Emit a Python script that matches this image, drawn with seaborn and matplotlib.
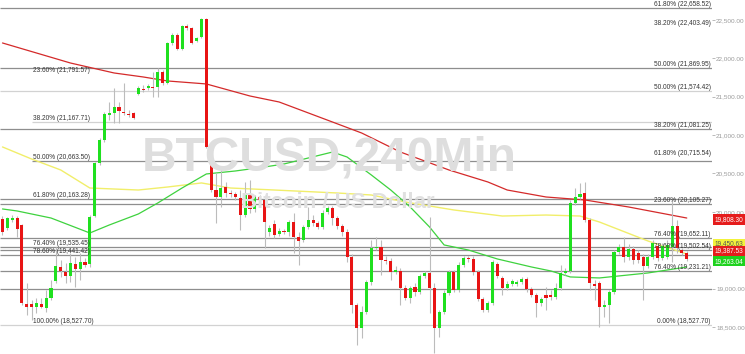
import numpy as np
import pandas as pd
import matplotlib
matplotlib.use("Agg")
import matplotlib.pyplot as plt
import matplotlib.transforms as mtransforms
import seaborn as sns

# ---------------- data ----------------
opens = [19906, 19789, 19893, 19919, 19828, 18799, 18799, 18760, 18799, 18747,
         18877, 19099, 19281, 19216, 19164, 19320, 19255, 19346, 19320, 19945,
         20636, 20936, 21261, 21288, 21366, 21301, 21275, 21288, 21535, 21600,
         21613, 21626, 21626, 21822, 21679, 22200, 22304, 22122, 22421, 22395,
         22226, 22278, 22512, 20832, 20284, 20193, 20323, 20245, 20232, 20180,
         19958, 20232, 20037, 20193, 20154, 19737, 19841, 19711, 19750, 19737,
         19867, 19672, 19633, 19802, 19893, 19854, 19802, 19998, 20050, 19919,
         19815, 19737, 19411, 18786, 18486, 18695, 19085, 19529, 19542, 19372,
         19359, 19216, 19229, 19007, 18877, 19020, 18955, 19164, 19203, 19007,
         18486, 18695, 18942, 19216, 18981, 19307, 19398, 19385, 19216, 18864,
         18721, 18812, 19320, 19138, 19007, 19059, 19059, 19085, 19125, 18994,
         18916, 18812, 18916, 18916, 18890, 19007, 19203, 19229, 20115, 20193,
         20245, 19893, 19059, 19072, 18760, 18786, 18955, 19476, 19542, 19411,
         19515, 19463, 19411, 19294, 19411, 19555, 19398, 19411, 19542, 19815,
         19502, 19463]
closes = [19737, 19919, 19919, 19776, 18812, 18760, 18760, 18812, 18760, 18877,
          19007, 19294, 19229, 19164, 19333, 19255, 19346, 19307, 19932, 20636,
          20936, 21275, 21288, 21366, 21314, 21288, 21261, 21222, 21613, 21587,
          21639, 21613, 21822, 21679, 22200, 22304, 22122, 22421, 22395, 22200,
          22265, 22512, 20845, 20284, 20193, 20310, 20245, 20232, 20193, 19958,
          20232, 20037, 20193, 20154, 19867, 19789, 19698, 19750, 19737, 19867,
          19672, 19620, 19802, 19893, 19854, 19802, 19985, 20050, 19919, 19815,
          19737, 19411, 18786, 18486, 18695, 19085, 19529, 19542, 19372, 19359,
          19216, 19242, 19007, 18877, 19007, 18955, 19164, 19203, 19007, 18486,
          18695, 18942, 19216, 18981, 19307, 19398, 19385, 19216, 18864, 18721,
          18812, 19346, 19164, 19007, 19059, 19099, 19085, 19125, 18994, 18916,
          18812, 18864, 18877, 18890, 19007, 19203, 19229, 20115, 20193, 20232,
          19893, 19072, 19033, 18760, 18786, 18955, 19476, 19542, 19411, 19515,
          19372, 19372, 19294, 19411, 19594, 19398, 19555, 19568, 19815, 19529,
          19463, 19387.53]
highs = [19945, 19932, 19958, 19945, 19841, 19072, 18851, 18877, 18877, 18981,
         19112, 19542, 19372, 19333, 19463, 19411, 19463, 19398, 19958, 20649,
         20962, 21301, 21431, 21613, 21431, 21678, 21327, 21300, 21639, 21652,
         21665, 21822, 21874, 21848, 22213, 22330, 22330, 22434, 22447, 22408,
         22278, 22526, 22526, 20845, 20506, 20545, 20389, 20284, 20258, 20284,
         20389, 20415, 20219, 20219, 20167, 19828, 19893, 19789, 19776, 19893,
         19985, 19737, 19828, 20063, 19958, 19880, 20024, 20076, 20076, 19945,
         19841, 19776, 19450, 18812, 18773, 19112, 19633, 19672, 19633, 19424,
         19398, 19294, 19268, 19046, 19033, 19072, 19190, 19229, 19932, 19072,
         18721, 18981, 19242, 19242, 19346, 19424, 19424, 19424, 19242, 18890,
         18838, 19372, 19346, 19164, 19099, 19125, 19112, 19151, 19151, 19020,
         18942, 18890, 19020, 18981, 19072, 19307, 19268, 20154, 20310, 20376,
         20389, 19919, 19112, 19099, 18851, 18981, 19502, 19581, 19672, 19581,
         19555, 19502, 19450, 19450, 19633, 19594, 19594, 19633, 20154, 19893,
         19529, 19489]
lows = [19698, 19763, 19867, 19672, 18786, 18655, 18590, 18682, 18747, 18695,
        18851, 19072, 19151, 19072, 19085, 19020, 19112, 19281, 19281, 19932,
        20610, 20910, 21196, 21157, 21157, 21261, 21235, 21209, 21522, 21561,
        21587, 21496, 21496, 21652, 21666, 22174, 22109, 22109, 22369, 22187,
        22213, 22265, 20832, 20258, 19854, 20063, 20193, 20193, 20154, 19763,
        19932, 19985, 19998, 20128, 19529, 19685, 19659, 19685, 19711, 19685,
        19463, 19307, 19607, 19776, 19815, 19776, 19776, 19972, 19828, 19776,
        19685, 19346, 18682, 18265, 18356, 18669, 19046, 19502, 19177, 19320,
        19112, 19190, 18786, 18851, 18812, 18903, 18929, 19138, 18682, 18160,
        18369, 18669, 18916, 18955, 18955, 19281, 19346, 19177, 18838, 18695,
        18695, 18786, 19138, 18916, 18981, 19033, 19033, 19059, 18955, 18890,
        18630, 18773, 18721, 18851, 18864, 18981, 19177, 19203, 20089, 20167,
        19867, 18981, 18851, 18499, 18630, 18551, 18929, 19450, 19346, 19372,
        19320, 19333, 18851, 19268, 19385, 19359, 19372, 19385, 19346, 19463,
        19437, 19359]

# moving averages, read at sampled bars
ma200_idx = [0, 14, 23, 29, 34, 42, 51, 57, 68, 74, 82, 92, 100, 104, 112, 120, 129, 141]
ma200_val = [22200, 21939, 21809, 21757, 21705, 21666, 21509, 21431, 21170, 21027,
             20779, 20545, 20389, 20284, 20193, 20154, 20063, 19919]
ma100_idx = [0, 6, 12, 18, 28, 34, 41, 47, 56, 69, 76, 83, 93, 103, 112, 119, 123, 133, 141]
ma100_val = [20845, 20688, 20545, 20310, 20284, 20323, 20376, 20310, 20284, 20245,
             20219, 20128, 20024, 19945, 19958, 19945, 19867, 19620, 19450]
ma50_idx = [0, 3, 10, 18, 22, 28, 32, 37, 42, 48, 54, 58, 63, 68, 71, 76, 80, 84,
            88, 91, 96, 102, 109, 113, 117, 123, 133, 141]
ma50_val = [20037, 20011, 19919, 19724, 19828, 19972, 20115, 20310, 20493, 20532,
            20584, 20623, 20701, 20779, 20714, 20480, 20284, 20063, 19802, 19568,
            19502, 19385, 19281, 19229, 19151, 19138, 19203, 19281]

# horizontal levels
level_prices = [22658.52, 21869.95, 21574.42, 21167.71, 21081.25, 20663.50, 20163.28,
                20105.27, 19652.11, 19535.45, 19502.54, 19441.42, 19231.21, 19000.00, 18527.70]
level_light = [False, False, True, True, False, False, False,
               False, False, False, False, False, False, False, True]
level_from_left_set = [False, False, False, True, False, True, False,
                       False, False, False, False, False, False, False, False]

right_labels = ["61.80% (22,658.52)", "38.20% (22,403.49)", "50.00% (21,869.95)",
                "50.00% (21,574.42)", "38.20% (21,081.25)", "61.80% (20,715.54)",
                "23.60% (20,105.27)", "76.40% (19,652.11)", "78.60% (19,502.54)",
                "76.40% (19,231.21)", "0.00% (18,527.70)"]
right_label_prices = [22658.52, 22403.49, 21869.95, 21574.42, 21081.25, 20715.54,
                      20105.27, 19652.11, 19502.54, 19231.21, 18527.70]
left_labels = ["23.60% (21,791.57)", "38.20% (21,167.71)", "50.00% (20,663.50)",
               "61.80% (20,163.28)", "76.40% (19,535.45)", "78.60% (19,441.42)",
               "100.00% (18,527.70)"]
left_label_prices = [21791.57, 21167.71, 20663.50, 20163.28, 19535.45, 19441.42, 18527.70]

axis_ticks = [18500, 19000, 19500, 20000, 20500, 21000, 21500, 22000, 22500]

tag_texts = ["19,808.30", "19,450.63", "19,387.53", "19,263.04"]
tag_prices = [19808.30, 19450.63, 19387.53, 19263.04]
tag_colors = ["#e51c1c", "#f2f23a", "#e51c1c", "#1ed21e"]
tag_text_colors = ["white", "#555555", "white", "white"]

# ---------------- drawing ----------------
sns.set_theme(style="white")
plt.rcParams['font.family'] = ['Liberation Sans', 'DejaVu Sans']

W, H = 745, 354
fig = plt.figure(figsize=(W / 100, H / 100), dpi=100)
ax = fig.add_axes([0, 0, 712 / W, 1])
x_left, x_right = -0.515, 146.2
ax.set_xlim(x_left, x_right)
ax.set_ylim(18147, 22760)

df = pd.DataFrame({"open": opens, "high": highs, "low": lows, "close": closes})
df["idx"] = np.arange(len(df))

# watermark (behind everything)
fig.patch.set_facecolor("white")
ax.patch.set_alpha(0)
fig.text(329 / W, 1 - 170 / H, "BTCUSD,240Min", fontsize=34.5, fontweight="bold",
         color="#dedede", ha="center", va="baseline", zorder=0,
         family=["Liberation Sans", "DejaVu Sans"])
fig.text(338 / W, 1 - 208 / H, "Bitcoin / US Dollar", fontsize=16, fontweight="bold",
         color="#e0e0e0", ha="center", va="baseline", zorder=0,
         family=["Liberation Sans", "DejaVu Sans"])

# levels
left_start = 6.1
for p, light, part in zip(level_prices, level_light, level_from_left_set):
    ax.hlines(p, left_start if part else x_left, x_right,
              colors="#d2d2d2" if light else "#8e8e8e", lw=0.9, zorder=2)

ytrans = mtransforms.blended_transform_factory(ax.transAxes, ax.transData)
for t, p in zip(right_labels, right_label_prices):
    ax.text(0.998, p, t, transform=ytrans, ha="right", va="bottom",
            fontsize=4.7, color="#333333", zorder=6)
for t, p in zip(left_labels, left_label_prices):
    ax.text(6.3, p, t, ha="left", va="bottom", fontsize=4.7, color="#333333", zorder=6)

# moving averages
sns.lineplot(x=ma200_idx, y=ma200_val, ax=ax, color="#d42a2a", lw=0.9, zorder=3)
sns.lineplot(x=ma100_idx, y=ma100_val, ax=ax, color="#f1ee6a", lw=1.0, zorder=3)
sns.lineplot(x=ma50_idx, y=ma50_val, ax=ax, color="#3ed23e", lw=0.9, zorder=3)

# candles
up = df["close"] >= df["open"]
colors = np.where(up, "#1fe01f", "#e81414")
ax.vlines(df["idx"], df["low"], df["high"], color="#bcbcbc", lw=0.8, zorder=4)
body_h = np.maximum((df["close"] - df["open"]).abs(), 12)
ax.bar(df["idx"], body_h, bottom=np.minimum(df["open"], df["close"]), width=0.64,
       color=colors, linewidth=0, zorder=5)

# axis
sns.despine(ax=ax, left=True, bottom=True, right=True, top=True)
ax.set_xticks([])
ax.yaxis.tick_right()
ax.set_yticks(axis_ticks)
ax.set_yticklabels([f"{v:,.2f}" for v in axis_ticks])
ax.tick_params(axis="y", which="both", length=2, width=0.6, color="#b0b0b0",
               labelsize=4.6, labelcolor="#9a9a9a", pad=1, right=True, left=False)
ax.set_xlabel("")
ax.set_ylabel("")

# price tags on the right
tag_offsets = [7, 10, 8, 7]
for t, p, c, tc, off in zip(tag_texts, tag_prices, tag_colors, tag_text_colors, tag_offsets):
    ax.annotate(t, xy=(1.0, p), xycoords=ytrans, xytext=(3, off),
                textcoords="offset pixels", ha="left", va="center", fontsize=4.7,
                color=tc, annotation_clip=False, zorder=7,
                bbox=dict(boxstyle="square,pad=0.25", fc=c, ec="none"))

fig.savefig("out.png", dpi=100)
